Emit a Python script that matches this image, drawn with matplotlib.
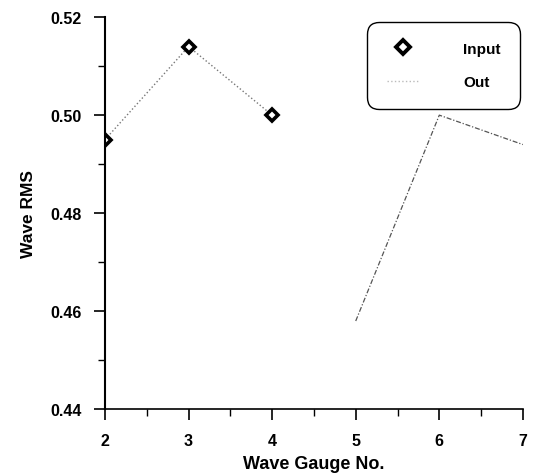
import matplotlib.pyplot as plt
from matplotlib.ticker import MultipleLocator
from matplotlib.lines import Line2D

# Data
gauge_in = [2, 3, 4]
rms_in = [0.495, 0.514, 0.500]
gauge_out = [5, 6, 7]
rms_out = [0.458, 0.500, 0.494]

plt.rcParams['font.family'] = ['Liberation Sans', 'DejaVu Sans']
plt.rcParams['font.weight'] = 'bold'

fig = plt.figure(figsize=(5.33, 4.77), dpi=100)
ax = fig.add_axes([0.197, 0.140, 0.784, 0.822])

ax.plot(gauge_in, rms_in, linestyle=':', color='#777777', linewidth=1.0,
        marker='D', markersize=6.5, markerfacecolor='white',
        markeredgecolor='black', markeredgewidth=2.6)
ax.plot(gauge_out, rms_out, linestyle=(0, (4, 1.5, 1, 1.5)), color='#555555',
        linewidth=0.9)

ax.set_xlim(2, 7)
ax.set_ylim(0.44, 0.52)
ax.xaxis.set_major_locator(MultipleLocator(1))
ax.xaxis.set_minor_locator(MultipleLocator(0.5))
ax.yaxis.set_major_locator(MultipleLocator(0.02))
ax.yaxis.set_minor_locator(MultipleLocator(0.01))
ax.yaxis.set_major_formatter(plt.FormatStrFormatter('%.2f'))

ax.spines['top'].set_visible(False)
ax.spines['right'].set_visible(False)
ax.spines['left'].set_linewidth(1.5)
ax.spines['bottom'].set_linewidth(1.2)
ax.tick_params(which='major', direction='out', length=8, width=1.2,
               labelsize=11.5, pad=9)
ax.tick_params(which='minor', direction='out', length=5, width=1.0)
for lab in ax.get_xticklabels() + ax.get_yticklabels():
    lab.set_fontweight('heavy')

ax.set_xlabel('Wave Gauge No.', fontsize=13, fontweight='heavy', labelpad=5)
ax.set_ylabel('Wave RMS', fontsize=12.5, fontweight='heavy', labelpad=10)

handles = [
    Line2D([], [], linestyle='none', marker='D', markersize=7,
           markerfacecolor='white', markeredgecolor='black', markeredgewidth=2.8),
    Line2D([], [], linestyle=':', color='#bbbbbb', linewidth=1.0),
]
leg = ax.legend(handles, ['Input', 'Out'], loc='upper right',
                bbox_to_anchor=(1.005, 1.0), fontsize=11,
                frameon=True, fancybox=True, borderpad=1.3, labelspacing=1.3,
                handlelength=2.2, handletextpad=2.8, borderaxespad=0.3)
leg.get_frame().set_edgecolor('black')
leg.get_frame().set_linewidth(1.0)
leg.get_frame().set_alpha(1)
leg.get_frame().set_boxstyle('round', pad=0.0, rounding_size=0.8)
for text in leg.get_texts():
    text.set_fontweight('heavy')

fig.savefig('out.png', dpi=100)
